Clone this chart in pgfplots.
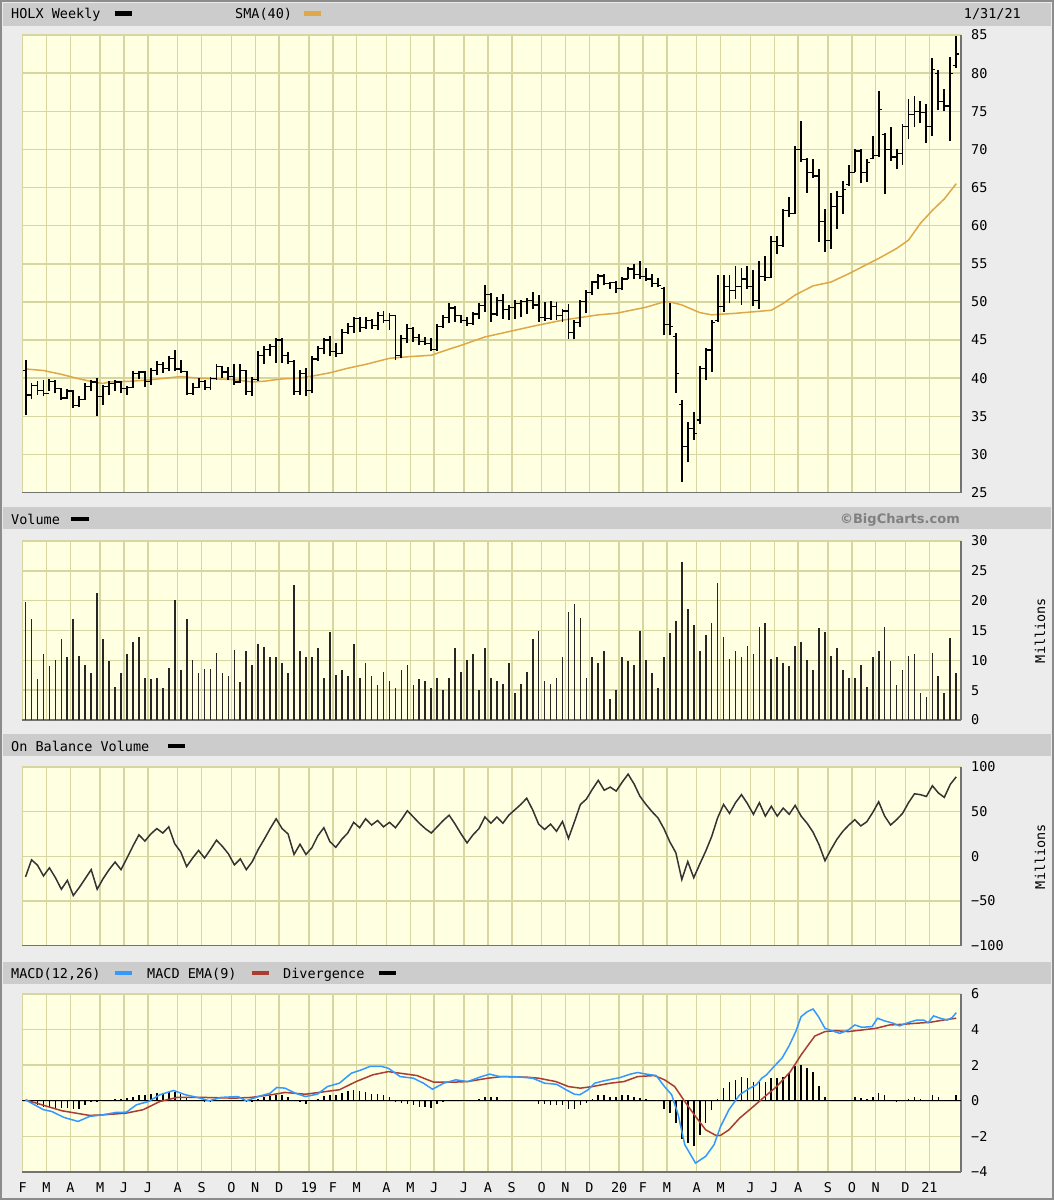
\documentclass[border=0pt]{standalone}
\usepackage{fontspec}
\setmainfont{DejaVu Sans Mono}
\newfontfamily\bcfont{DejaVu Sans}
\usepackage{pgfplots}
\usepackage{pgfplotstable}
\pgfplotsset{compat=1.18}
\definecolor{pagebg}{RGB}{236,236,236}
\definecolor{headbg}{RGB}{204,204,204}
\definecolor{plotbg}{RGB}{255,255,226}
\definecolor{gridc}{RGB}{216,214,160}
\definecolor{framec}{RGB}{115,115,115}
\definecolor{smacol}{RGB}{222,168,72}
\definecolor{macdblue}{RGB}{51,153,255}
\definecolor{emared}{RGB}{170,60,50}
\definecolor{bcgrey}{RGB}{128,128,128}
\pgfdeclareplotmark{otick}{\pgfpathmoveto{\pgfqpoint{-3pt}{0pt}}\pgfpathlineto{\pgfqpoint{0pt}{0pt}}\pgfusepathqstroke}
\pgfdeclareplotmark{ctick}{\pgfpathmoveto{\pgfqpoint{0pt}{0pt}}\pgfpathlineto{\pgfqpoint{3pt}{0pt}}\pgfusepathqstroke}
\newcommand\fs{\fontsize{13.5}{15}\selectfont}

\pgfplotstableread{
k O H L C
0 41.0 42.4 35.2 37.8
1 37.8 39.4 37.2 39.0
2 39.0 39.6 37.8 38.4
3 38.4 39.8 37.6 38.0
4 38.0 39.9 38.3 39.6
5 39.6 39.8 38.0 38.6
6 38.6 38.7 37.1 37.4
7 37.4 38.6 37.3 38.3
8 38.3 38.4 36.1 36.4
9 36.4 37.6 36.2 37.2
10 37.2 39.4 37.1 38.9
11 38.9 39.8 38.3 39.5
12 39.5 40.0 35.0 37.6
13 37.6 39.1 36.5 38.9
14 38.9 39.6 37.8 39.3
15 39.3 39.8 38.3 39.5
16 39.5 39.6 38.0 38.6
17 38.6 39.0 37.8 38.8
18 38.8 40.9 38.7 40.6
19 40.6 41.0 39.9 40.8
20 40.8 40.9 38.9 39.6
21 39.6 41.3 39.1 41.0
22 41.0 42.2 40.4 41.8
23 41.8 42.1 40.7 41.3
24 41.3 42.9 40.9 42.6
25 42.6 43.7 40.9 41.2
26 41.2 42.4 40.7 40.9
27 40.9 41.0 37.8 38.0
28 38.0 39.3 37.8 38.8
29 38.8 40.0 38.7 39.6
30 39.6 39.8 38.5 38.8
31 38.8 40.2 38.5 40.0
32 40.0 41.8 39.8 41.5
33 41.5 41.6 40.0 40.8
34 40.8 41.5 39.8 40.2
35 40.2 41.8 39.1 39.5
36 39.5 41.8 39.3 41.0
37 41.0 41.1 37.8 38.2
38 38.2 40.2 37.6 39.8
39 39.8 43.5 39.6 43.0
40 43.0 44.2 41.8 43.8
41 43.8 44.5 42.9 44.2
42 44.2 45.3 42.0 45.0
43 45.0 45.2 42.0 43.0
44 43.0 43.4 41.8 42.2
45 42.2 42.4 37.8 38.2
46 38.2 41.1 37.8 40.6
47 40.6 41.3 37.6 38.4
48 38.4 42.9 38.0 42.5
49 42.5 44.2 42.2 43.9
50 43.9 45.3 43.1 45.0
51 45.0 45.5 42.9 43.5
52 43.5 44.6 42.8 43.2
53 43.2 46.4 43.1 46.0
54 46.0 47.2 45.8 46.8
55 46.8 48.0 45.9 47.8
56 47.8 48.0 46.0 46.6
57 46.6 48.0 46.5 47.6
58 47.6 47.8 46.5 46.9
59 46.9 48.7 46.3 48.2
60 48.2 48.8 47.2 47.6
61 47.6 48.5 46.3 48.2
62 48.2 48.3 42.4 43.0
63 43.0 45.7 42.6 45.2
64 45.2 47.1 44.6 46.5
65 46.5 46.7 44.8 45.3
66 45.3 45.8 44.3 44.8
67 44.8 45.4 44.3 44.5
68 44.5 45.2 43.5 43.8
69 43.8 47.1 43.6 46.8
70 46.8 48.3 46.6 48.0
71 48.0 49.8 47.2 49.2
72 49.2 49.4 47.4 48.2
73 48.2 48.3 47.2 47.6
74 47.6 48.0 46.8 47.2
75 47.2 48.7 47.0 48.4
76 48.4 49.8 47.8 49.5
77 49.5 52.2 48.7 51.0
78 51.0 51.2 47.4 48.4
79 48.4 50.7 48.2 50.2
80 50.2 51.0 47.8 49.0
81 49.0 49.6 47.6 49.3
82 49.3 50.2 47.8 49.8
83 49.8 50.2 48.0 50.0
84 50.0 50.5 48.4 50.2
85 50.2 51.3 49.1 49.6
86 49.6 50.9 47.4 48.0
87 48.0 50.0 47.5 47.8
88 47.8 50.1 47.6 49.4
89 49.4 50.0 47.6 48.2
90 48.2 49.1 47.4 48.8
91 48.8 49.7 45.1 46.0
92 46.0 47.6 45.1 47.3
93 47.3 50.2 46.7 50.0
94 50.0 51.5 48.5 51.2
95 51.2 52.8 50.9 52.6
96 52.6 53.7 51.7 53.4
97 53.4 53.7 52.2 52.4
98 52.4 52.6 51.7 52.5
99 52.5 52.8 51.1 51.8
100 51.8 53.3 51.5 53.0
101 53.0 54.6 53.0 54.3
102 54.3 55.0 53.0 53.6
103 53.6 55.3 53.0 53.3
104 53.3 54.5 52.8 53.0
105 53.0 53.7 52.0 52.4
106 52.4 53.1 51.9 52.2
107 51.8 52.0 45.6 47.0
108 47.0 49.8 45.6 46.8
109 45.5 45.9 38.0 40.6
110 36.5 37.1 26.4 31.0
111 31.0 34.3 29.0 33.4
112 33.4 35.5 31.9 32.7
113 34.5 41.6 34.0 41.3
114 41.3 43.9 39.7 43.7
115 43.7 47.6 40.8 47.3
116 47.6 53.5 47.4 49.4
117 49.4 53.5 48.7 52.0
118 52.0 53.5 49.8 51.5
119 51.5 54.7 50.4 52.0
120 52.0 54.5 49.6 53.0
121 53.0 54.7 51.7 52.0
122 52.0 54.2 49.4 50.2
123 50.2 55.3 49.1 53.3
124 53.3 56.0 52.8 53.2
125 53.2 58.7 53.1 57.9
126 57.9 58.7 56.3 57.4
127 57.4 62.2 57.2 62.0
128 62.0 63.7 61.1 61.6
129 61.6 70.4 61.5 70.0
130 70.0 73.7 68.3 68.7
131 68.7 68.9 64.3 67.0
132 67.0 68.7 66.3 66.5
133 66.5 67.4 57.9 60.5
134 60.5 62.2 56.6 58.0
135 58.0 64.3 57.0 62.5
136 62.5 64.5 59.6 63.8
137 63.8 65.9 61.5 64.7
138 65.4 68.0 65.2 67.0
139 67.0 70.0 67.0 69.8
140 69.8 70.0 65.6 67.0
141 67.0 68.7 65.7 68.3
142 68.8 71.7 68.7 69.2
143 69.2 77.6 69.0 75.2
144 72.0 72.1 64.1 70.0
145 70.0 73.0 68.5 69.0
146 69.0 70.0 67.4 69.5
147 69.5 73.3 68.0 73.0
148 73.0 76.6 71.3 74.6
149 74.6 77.0 73.0 75.0
150 75.0 76.4 73.5 74.8
151 74.8 76.0 70.8 73.0
152 73.0 82.0 71.8 80.5
153 80.0 80.4 75.2 76.3
154 76.3 77.9 75.0 75.7
155 75.7 82.1 71.1 80.0
156 81.0 84.9 80.7 82.5
}\pricetab

\pgfplotstableread{
k V
0 19.8
1 16.9
2 6.9
3 11.0
4 9.0
5 10.0
6 13.5
7 10.5
8 16.9
9 10.8
10 9.3
11 7.8
12 21.3
13 13.5
14 9.9
15 5.6
16 7.8
17 11.0
18 13.0
19 13.9
20 7.1
21 6.9
22 7.1
23 5.4
24 8.8
25 20.1
26 8.4
27 16.9
28 10.0
29 7.8
30 8.6
31 8.6
32 11.3
33 7.8
34 7.4
35 11.8
36 6.4
37 11.5
38 9.3
39 12.8
40 12.3
41 10.5
42 10.5
43 9.6
44 7.8
45 22.6
46 11.5
47 10.5
48 10.5
49 12.0
50 7.1
51 14.7
52 7.6
53 8.4
54 7.4
55 12.8
56 7.1
57 9.6
58 7.4
59 5.9
60 8.1
61 6.6
62 5.4
63 8.4
64 9.3
65 5.9
66 6.9
67 6.6
68 5.4
69 7.1
70 5.1
71 7.1
72 12.0
73 8.1
74 10.0
75 11.0
76 5.1
77 12.0
78 7.1
79 6.6
80 6.1
81 9.6
82 4.6
83 6.1
84 8.1
85 13.5
86 15.0
87 6.6
88 6.1
89 7.1
90 10.5
91 18.1
92 19.4
93 17.1
94 7.1
95 10.5
96 9.6
97 11.5
98 3.5
99 5.1
100 10.5
101 9.9
102 9.3
103 15.0
104 10.0
105 7.8
106 5.4
107 10.5
108 14.5
109 16.6
110 26.4
111 18.6
112 15.9
113 11.5
114 14.2
115 16.3
116 23.0
117 13.9
118 10.3
119 11.5
120 10.5
121 12.4
122 11.0
123 15.6
124 16.2
125 10.3
126 10.5
127 9.6
128 9.0
129 12.4
130 13.0
131 10.0
132 8.4
133 15.4
134 14.7
135 10.8
136 12.0
137 8.4
138 7.1
139 7.1
140 9.3
141 5.6
142 10.5
143 11.5
144 15.6
145 9.9
146 5.9
147 8.4
148 10.8
149 11.0
150 4.6
151 3.9
152 11.3
153 7.4
154 4.5
155 13.8
156 7.8
}\voltab

\pgfplotstableread{
k V
0 -23
1 -4
2 -10
3 -22
4 -13
5 -24
6 -37
7 -27
8 -44
9 -35
10 -25
11 -15
12 -37
13 -25
14 -15
15 -6.5
16 -15
17 -2
18 11.5
19 24
20 17
21 25
22 31
23 26
24 33
25 14
26 5
27 -11.5
28 -2
29 6.5
30 -2
31 7.7
32 18
33 11
34 2.7
35 -9.6
36 -3
37 -15
38 -6
39 7.7
40 19
41 31
42 42
43 31
44 25
45 2
46 13.5
47 2
48 9.6
49 23
50 32
51 16.5
52 10
53 19
54 26
55 38
56 32
57 42
58 35
59 40
60 33
61 38
62 32
63 41
64 51
65 44
66 37
67 31
68 26
69 33
70 40
71 46
72 36
73 25
74 15
75 24
76 31
77 44
78 37
79 44
80 37
81 46
82 52
83 58
84 65
85 52
86 36
87 30
88 36
89 28
90 39
91 20
92 38.6
93 58
94 64
95 75
96 85
97 74
98 77.5
99 73
100 83
101 92
102 81
103 67
104 58
105 50
106 43
107 31
108 16
109 4
110 -26
111 -6
112 -24
113 -9
114 5.6
115 22
116 43
117 58
118 48
119 60
120 69
121 59
122 47
123 60
124 45
125 56
126 45
127 54
128 47
129 57
130 45
131 37
132 27
133 13
134 -5
135 7.5
136 19
137 28
138 35
139 41
140 34
141 38.6
142 49
143 61
144 45
145 35
146 41
147 48
148 60
149 70
150 69
151 67
152 79
153 71
154 66
155 80.5
156 89
}\obvtab

\pgfplotstableread{
k V
1 -0.13
2 -0.22
3 -0.32
4 -0.37
5 -0.41
6 -0.41
7 -0.41
8 -0.45
9 -0.45
10 -0.26
11 -0.07
12 -0.07
15 0.11
16 0.11
17 0.15
18 0.22
19 0.30
20 0.34
21 0.41
22 0.45
23 0.45
24 0.49
25 0.49
26 0.37
27 0.24
30 -0.07
31 -0.07
37 -0.07
38 -0.07
39 0.11
40 0.19
41 0.26
42 0.30
43 0.30
44 0.19
46 -0.07
47 -0.19
49 0.11
50 0.26
51 0.30
52 0.34
53 0.45
54 0.56
55 0.60
56 0.56
57 0.52
58 0.37
59 0.37
60 0.34
61 0.19
62 -0.07
63 -0.13
64 -0.17
65 -0.22
66 -0.32
67 -0.32
68 -0.41
69 -0.19
70 -0.07
76 0.11
77 0.19
78 0.19
79 0.19
86 -0.17
87 -0.17
88 -0.22
89 -0.26
90 -0.26
91 -0.45
92 -0.45
93 -0.26
94 -0.13
95 0.11
96 0.30
97 0.30
98 0.24
99 0.19
100 0.30
101 0.30
102 0.24
103 0.15
104 0.11
107 -0.45
108 -0.69
109 -1.25
110 -2.15
111 -2.37
112 -2.56
113 -1.90
114 -1.25
115 -0.50
116 0.11
117 0.71
118 1.05
119 1.18
120 1.36
121 1.27
122 1.08
123 1.18
124 1.08
125 1.27
126 1.27
127 1.36
128 1.55
129 1.93
130 2.02
131 1.83
132 1.61
133 0.86
134 0.19
139 0.19
140 0.15
141 0.11
142 0.19
143 0.43
144 0.30
146 -0.07
148 0.11
149 0.19
150 0.11
152 0.30
153 0.24
155 0.05
156 0.30
}\histtab

\pgfplotsset{
  chartpanel/.style={
    scale only axis, width=939pt, anchor=north west,
    xmin=-0.6, xmax=156.8,
    axis background/.style={fill=plotbg},
    grid=major,
    major grid style={draw=gridc, line width=1.5pt},
    axis x line*=bottom, axis y line*=right,
    axis line style={draw=framec, line width=1.5pt},
    major tick length=0pt,
    xtick={-0.5,3.5,7.5,12.5,16.5,20.5,25.5,29.5,34.5,38.5,42.5,47.5,51.5,55.5,60.5,64.5,68.5,73.5,77.5,81.5,86.5,90.5,94.5,99.5,103.5,107.5,112.5,116.5,121.5,125.5,129.5,134.5,138.5,142.5,147.5,151.5},
    xticklabels={},
    yticklabel style={font=\fs, anchor=west, inner sep=0pt, xshift=10pt},
  }
}

\begin{document}
\begin{tikzpicture}
\fill[pagebg] (0pt,0pt) rectangle (1054pt,-1200pt);
\useasboundingbox (0pt,0pt) rectangle (1054pt,-1200pt);
\draw[black!45, line width=2pt] (1pt,-1pt) rectangle (1053pt,-1199pt);
% header bars
\fill[headbg] (3pt,-3pt) rectangle (1051pt,-25.5pt);
\fill[headbg] (3pt,-507pt) rectangle (1051pt,-529pt);
\fill[headbg] (3pt,-734pt) rectangle (1051pt,-756pt);
\fill[headbg] (3pt,-962pt) rectangle (1051pt,-984pt);

% header texts and swatches
\node[anchor=base west, inner sep=0pt, font=\fs] at (11pt,-18.6pt) {HOLX Weekly};
\fill[black] (115pt,-11pt) rectangle (132pt,-15.5pt);
\node[anchor=base west, inner sep=0pt, font=\fs] at (235pt,-18.6pt) {SMA(40)};
\fill[smacol] (303.5pt,-11pt) rectangle (321pt,-15.5pt);
\node[anchor=base east, inner sep=0pt, font=\fs] at (1021pt,-18.6pt) {1/31/21};

\node[anchor=base west, inner sep=0pt, font=\fs] at (11pt,-524.6pt) {Volume};
\fill[black] (71pt,-516.5pt) rectangle (88.5pt,-521pt);
\node[anchor=base east, inner sep=0pt, font=\bcfont\bfseries\fontsize{13}{15}\selectfont, text=bcgrey] at (960pt,-523.8pt) {\textcopyright BigCharts.com};

\node[anchor=base west, inner sep=0pt, font=\fs] at (11pt,-751pt) {On Balance Volume};
\fill[black] (168pt,-743.5pt) rectangle (185pt,-748pt);

\node[anchor=base west, inner sep=0pt, font=\fs] at (11pt,-978.5pt) {MACD(12,26)};
\fill[macdblue] (115pt,-970.5pt) rectangle (132pt,-975pt);
\node[anchor=base west, inner sep=0pt, font=\fs] at (147pt,-978.5pt) {MACD EMA(9)};
\fill[emared] (252pt,-970.5pt) rectangle (269pt,-975pt);
\node[anchor=base west, inner sep=0pt, font=\fs] at (283pt,-978.5pt) {Divergence};
\fill[black] (379pt,-970.5pt) rectangle (396pt,-975pt);

\node[rotate=90, inner sep=0pt, font=\fs] at (1040pt,-630.5pt) {Millions};
\node[rotate=90, inner sep=0pt, font=\fs] at (1040pt,-856.5pt) {Millions};

% ---------- Price panel
\begin{axis}[chartpanel, at={(22pt,-35pt)}, height=457.5pt,
  ymin=25, ymax=85, ytick={25,30,...,85},
  yticklabels={25,30,35,40,45,50,55,60,65,70,75,80,85}]
\addplot[smacol, line width=1.5pt, mark=none] coordinates {
(0,41.2)(3,41.0)(6,40.5)(9,39.9)(12,39.4)(13,39.3)(14,39.5)(18,39.6)(21,39.8)(26,40.2)(29,40.0)(32,39.9)(35,39.8)(38,39.5)(40,39.6)(43,39.9)(46,40.0)(49,40.4)(51,40.7)(54,41.3)(57,41.8)(61,42.6)(64,42.8)(68,43.0)(71,43.8)(73,44.3)(77,45.4)(81,46.1)(85,46.8)(90,47.6)(96,48.3)(99,48.5)(104,49.3)(107,50.0)(108,50.0)(110,49.6)(113,48.6)(115,48.3)(119,48.5)(122,48.7)(125,48.9)(127,49.8)(129,50.9)(132,52.1)(135,52.6)(138,53.7)(140,54.5)(143,55.7)(146,57.0)(148,58.1)(150,60.3)(152,62.0)(154,63.5)(156,65.5)};
\addplot[draw=none, mark=none, forget plot,
  error bars/.cd, y dir=plus, y explicit, error mark=none,
  error bar style={draw=black, solid, line width=1.9pt}]
  table[x=k, y=L, y error expr=\thisrow{H}-\thisrow{L}] {\pricetab};
\addplot[only marks, mark=otick, black, mark options={solid, line width=1.2pt}] table[x=k, y=O] {\pricetab};
\addplot[only marks, mark=ctick, black, mark options={solid, line width=1.2pt}] table[x=k, y=C] {\pricetab};
\end{axis}

% ---------- Volume panel
\begin{axis}[chartpanel, at={(22pt,-541pt)}, height=179pt,
  ymin=0, ymax=30, ytick={0,5,...,30}, yticklabels={0,5,10,15,20,25,30}]
\addplot[ycomb, draw=black!85, line width=1.7pt, mark=none] table[x=k, y=V] {\voltab};
\end{axis}

% ---------- OBV panel
\begin{axis}[chartpanel, at={(22pt,-767pt)}, height=178.5pt,
  ymin=-100, ymax=100, ytick={-100,-50,0,50,100},
  yticklabels={−100,−50,0,50,100}]
\addplot[black!80, line width=1.5pt, mark=none] table[x=k, y=V] {\obvtab};
\end{axis}

% ---------- MACD panel
\begin{axis}[chartpanel, at={(22pt,-994pt)}, height=178pt,
  ymin=-4, ymax=6, ytick={-4,-2,0,2,4,6}, yticklabels={−4,−2,0,2,4,6},
  xticklabels={F,M,A,M,J,J,A,S,O,N,D,19,F,M,A,M,J,J,A,S,O,N,D,20,F,M,A,M,J,J,A,S,O,N,D,21},
  xticklabel style={font=\fs, anchor=north, inner sep=0pt, yshift=-10pt}]
\addplot[black, line width=1.2pt, mark=none] coordinates {(-0.6,0) (156.8,0)};
\addplot[ycomb, draw=black, line width=1.6pt, mark=none] table[x=k, y=V] {\histtab};
\addplot[emared, line width=1.5pt, mark=none] coordinates {
(0,0.05)(2.7,-0.22)(6.1,-0.56)(10.7,-0.82)(12.9,-0.79)(16.9,-0.69)(19.7,-0.5)(22.5,-0.04)(25.4,0.19)(29.9,0.19)(35,0.15)(37.8,0.19)(41.2,0.34)(43.5,0.47)(46.9,0.37)(50.3,0.52)(52.6,0.62)(55.4,1.08)(58.2,1.46)(60.8,1.64)(62.8,1.55)(65.6,1.42)(68.4,1.05)(71.8,1.05)(74.1,1.08)(77.5,1.27)(79.8,1.36)(84,1.33)(86,1.27)(88.9,1.08)(91,0.8)(93,0.71)(95,0.8)(98,0.99)(100.3,1.08)(102.6,1.36)(105.4,1.42)(107.1,1.18)(108.8,0.8)(110.5,-0.04)(112.3,-0.88)(114,-1.63)(115.7,-1.94)(116.5,-1.94)(117.9,-1.63)(119.7,-0.97)(122,-0.32)(123.6,0.15)(125.9,0.8)(128.2,1.64)(130,2.58)(131.4,3.23)(132.3,3.64)(134,3.89)(135.8,3.94)(137.9,3.89)(140.2,3.98)(142.5,4.07)(144.8,4.26)(147.1,4.3)(149.4,4.36)(151.6,4.41)(153.9,4.54)(156,4.64)};
\addplot[macdblue, line width=1.5pt, mark=none] coordinates {
(0,0.05)(3,-0.5)(4.4,-0.6)(6.4,-0.93)(8.8,-1.16)(10.7,-0.88)(12.9,-0.79)(15.2,-0.65)(16.9,-0.64)(18.6,-0.22)(20.6,-0.04)(22.5,0.34)(24.8,0.58)(26.8,0.34)(28.8,0.19)(30.8,0.0)(32.7,0.19)(35.6,0.24)(37,0.0)(39,0.24)(41,0.43)(42.1,0.75)(43.5,0.71)(45.2,0.43)(46.9,0.24)(48.9,0.37)(50.6,0.8)(52.6,0.99)(54.6,1.55)(56.3,1.74)(57.7,1.93)(59.7,1.93)(60.8,1.83)(62.8,1.36)(65,1.27)(66.7,0.99)(68.2,0.65)(70.1,0.99)(72.1,1.18)(74.1,1.08)(76.4,1.36)(77.8,1.5)(79.5,1.36)(82,1.36)(85,1.27)(87,0.99)(89,0.93)(90.6,0.62)(92,0.37)(92.9,0.34)(94.3,0.62)(95.4,0.99)(96.9,1.12)(99.7,1.31)(101.4,1.5)(102.6,1.59)(104,1.5)(105.7,1.42)(107.1,0.8)(108.3,0.34)(109.4,-0.79)(110.5,-2.47)(112.3,-3.5)(114,-3.12)(115.4,-2.47)(116.5,-1.44)(117.9,-0.5)(119.7,0.34)(121.4,0.71)(122.5,0.9)(123.4,1.27)(124.2,1.46)(125.7,2.02)(126.8,2.4)(128,3.1)(129.1,3.89)(130,4.73)(131,5.0)(132,5.16)(132.9,4.73)(134,4.07)(134.8,3.98)(136.5,3.79)(137.9,3.98)(139,4.26)(140.2,4.13)(141.9,4.17)(142.8,4.64)(143.9,4.5)(145.4,4.36)(146.5,4.21)(147.9,4.39)(149.4,4.54)(150.5,4.54)(151.3,4.39)(152.2,4.77)(153.3,4.64)(154.5,4.54)(155.3,4.67)(156,4.95)};
\end{axis}
\end{tikzpicture}
\end{document}
